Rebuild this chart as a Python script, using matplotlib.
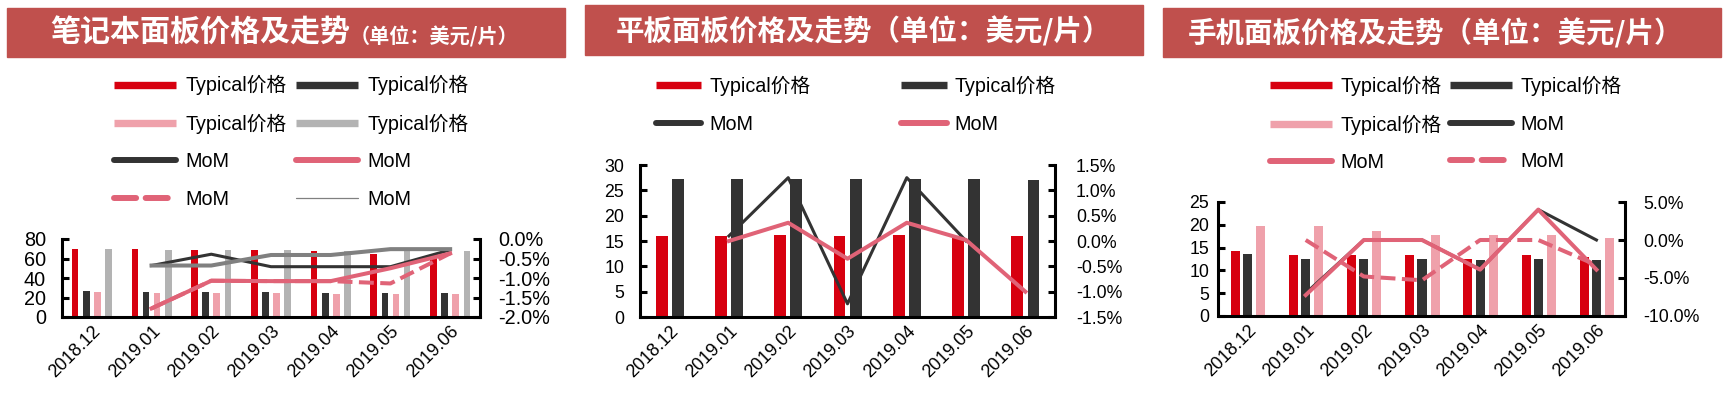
import numpy as np
import matplotlib
matplotlib.use('Agg')
import matplotlib.pyplot as plt
from matplotlib.lines import Line2D
from matplotlib.patches import Rectangle
from matplotlib.ticker import FuncFormatter

plt.rcParams['font.family'] = ['Liberation Sans', 'Noto Sans CJK SC']

W, H = 1731, 399
nan = np.nan

months = ['2018.12', '2019.01', '2019.02', '2019.03', '2019.04', '2019.05', '2019.06']

# 笔记本 (notebook) panel
nb_red = [70, 70, 69, 69, 68, 65, 64]
nb_dark = [27, 26, 26, 26, 25, 25, 25]
nb_pink = [26, 25, 25, 25, 24, 24, 24]
nb_gray = [70, 69, 69, 69, 68, 68, 68]
nb_mom_dark = [nan, -0.68, -0.39, -0.71, -0.71, -0.71, -0.28]
nb_mom_gray = [nan, -0.68, -0.68, -0.41, -0.41, -0.26, -0.26]
nb_mom_pink = [nan, -1.78, -1.07, -1.08, -1.08, -0.75, -0.37]
nb_mom_pink2 = [nan, -1.78, -1.07, -1.08, -1.08, -1.14, -0.37]
nb_mom_thin = [nan, -0.68, -0.68, -0.41, -0.41, -0.26, -0.26]

# 平板 (tablet) panel
tb_red = [16.0, 16.0, 16.2, 16.0, 16.2, 15.8, 16.0]
tb_dark = [27.2, 27.2, 27.2, 27.2, 27.2, 27.2, 27.0]
tb_mom_dark = [nan, 0.1, 1.25, -1.24, 1.25, 0.0, nan]
tb_mom_pink = [nan, 0.0, 0.36, -0.35, 0.36, 0.02, -1.0]

# 手机 (phone) panel
ph_red = [14.2, 13.3, 13.3, 13.3, 12.6, 13.3, 13.0]
ph_dark = [13.6, 12.6, 12.6, 12.6, 12.3, 12.6, 12.3]
ph_pink = [19.7, 19.7, 18.6, 17.7, 17.7, 17.7, 17.0]
ph_mom_dark = [nan, -7.0, 0.0, 0.0, -3.9, 4.0, 0.0]
ph_mom_pink = [nan, -7.25, 0.0, 0.0, -3.9, 4.0, -3.9]
ph_mom_pink2 = [nan, 0.0, -4.8, -5.3, 0.0, 0.0, -3.3]

C_RED = '#D7000F'
C_DARK = '#333333'
C_PINK = '#EFA1AB'
C_GRAY = '#B3B3B3'
C_LPINK = '#E06377'
C_LGRAY = '#808080'
C_BANNER = '#C0504D'

fig = plt.figure(figsize=(W / 100, H / 100), dpi=100)


def px_rect(l, t, r, b):
    return [l / W, 1 - b / H, (r - l) / W, (b - t) / H]


def make_axes(rect, ylim, yticks, y2lim, y2ticks, ysize, lpad, rpad):
    ax = fig.add_axes(px_rect(*rect))
    ax2 = ax.twinx()
    ax.set_xlim(-0.5, 6.5)
    ax.set_ylim(*ylim)
    ax.set_yticks(yticks)
    ax2.set_ylim(*y2lim)
    ax2.set_yticks(y2ticks)
    ax2.yaxis.set_major_formatter(FuncFormatter(lambda v, p: '%.1f%%' % v))
    for a in (ax, ax2):
        for s in a.spines.values():
            s.set_linewidth(2.2)
            s.set_visible(False)
    ax.spines['left'].set_visible(True)
    ax.spines['bottom'].set_visible(True)
    ax2.spines['right'].set_visible(True)
    ax.tick_params(axis='y', direction='in', length=5, width=2.2, labelsize=ysize, pad=lpad)
    ax2.tick_params(axis='y', direction='in', length=5, width=2.2, labelsize=ysize, pad=rpad)
    ax.set_xticks(range(len(months)))
    ax.set_xticklabels(months, rotation=45, ha='right', rotation_mode='anchor', fontsize=13)
    ax.tick_params(axis='x', length=0, pad=4)
    return ax, ax2


def banner(l, t, r, b):
    fig.add_artist(Rectangle((l / W, 1 - b / H), (r - l) / W, (b - t) / H,
                             transform=fig.transFigure, color=C_BANNER, zorder=0))


def ftext(x, y, s, **kw):
    fig.text(x / W, 1 - y / H, s, color='white', fontweight='bold',
             family=['Noto Sans CJK SC'], va='center', **kw)


def bar_h(color):
    return Line2D([], [], color=color, lw=5.3, solid_capstyle='butt')


def line_h(color, ls='-', lw=4.3):
    return Line2D([], [], color=color, lw=lw, ls=ls, solid_capstyle='round',
                  dash_capstyle='round')


def legend(handles, labels, cx, cy, hl, tp, cs, ls=0.93):
    h = handles[0::2] + handles[1::2]
    lab = labels[0::2] + labels[1::2]
    fig.legend(h, lab, loc='center', bbox_to_anchor=(cx / W, 1 - cy / H), ncol=2,
               frameon=False, fontsize=14.2, handlelength=hl, handletextpad=tp,
               columnspacing=cs, labelspacing=ls, borderpad=0, borderaxespad=0)


x = np.arange(len(months))

# ---- panel 1: notebook
banner(7, 8, 565, 57)
ftext(350, 33, '笔记本面板价格及走势', ha='right', fontsize=21.6)
ftext(350, 37, '（单位：美元/片）', ha='left', fontsize=14.5)
ax, ax2 = make_axes((62, 239, 480, 317), (0, 80), range(0, 81, 20),
                    (-2.0, 0.0), np.arange(-2.0, 0.01, 0.5), 14.3, 11.5, 12.8)
w = 0.112
ax.bar(x - 0.28, nb_red, w, color=C_RED)
ax.bar(x - 0.093, nb_dark, w, color=C_DARK)
ax.bar(x + 0.093, nb_pink, w, color=C_PINK)
ax.bar(x + 0.28, nb_gray, w, color=C_GRAY)
ax2.plot(x, nb_mom_dark, color=C_DARK, lw=2.2)
ax2.plot(x, nb_mom_gray, color=C_LGRAY, lw=2.9)
ax2.plot(x, nb_mom_thin, color=C_LGRAY, lw=0.8)
ax2.plot(x, nb_mom_pink, color=C_LPINK, lw=2.9)
ax2.plot(x, nb_mom_pink2, color=C_LPINK, lw=2.9, ls='--')
legend([bar_h(C_RED), bar_h(C_DARK), bar_h(C_PINK), bar_h(C_GRAY),
        line_h(C_DARK), line_h(C_LPINK), line_h(C_LPINK, '--'), line_h(C_LGRAY, lw=0.9)],
       ['Typical价格'] * 4 + ['MoM'] * 4, 291, 142, 3.15, 0.47, 0.47)

# ---- panel 2: tablet
banner(585, 5, 1143, 55)
ftext(863, 31.5, '平板面板价格及走势（单位：美元/片）', ha='center', fontsize=20.5)
ax, ax2 = make_axes((640, 165, 1055, 317), (0, 30), range(0, 31, 5),
                    (-1.5, 1.5), np.arange(-1.5, 1.51, 0.5), 12.8, 11.5, 15)
ax.bar(x - 0.135, tb_red, 0.2, color=C_RED)
ax.bar(x + 0.137, tb_dark, 0.2, color=C_DARK)
ax2.plot(x, tb_mom_dark, color=C_DARK, lw=2.2)
ax2.plot(x, tb_mom_pink, color=C_LPINK, lw=2.9)
legend([bar_h(C_RED), bar_h(C_DARK), line_h(C_DARK), line_h(C_LPINK)],
       ['Typical价格'] * 2 + ['MoM'] * 2, 856, 105, 2.3, 0.41, 4.6)

# ---- panel 3: phone
banner(1163, 8, 1721, 57)
ftext(1436, 33, '手机面板价格及走势（单位：美元/片）', ha='center', fontsize=20.5)
ax, ax2 = make_axes((1218.5, 202, 1625.5, 316), (0, 25), range(0, 26, 5),
                    (-10, 5), np.arange(-10, 5.1, 5), 12.8, 6.6, 12.5)
w = 0.155
ax.bar(x - 0.21, ph_red, w, color=C_RED)
ax.bar(x, ph_dark, w, color=C_DARK)
ax.bar(x + 0.225, ph_pink, w, color=C_PINK)
ax2.plot(x, ph_mom_dark, color=C_DARK, lw=2.2)
ax2.plot(x, ph_mom_pink, color=C_LPINK, lw=2.9)
ax2.plot(x, ph_mom_pink2, color=C_LPINK, lw=2.9, ls='--')
legend([bar_h(C_RED), bar_h(C_DARK), bar_h(C_PINK), line_h(C_DARK),
        line_h(C_LPINK), line_h(C_LPINK, '--')],
       ['Typical价格'] * 3 + ['MoM'] * 3, 1446, 124, 3.15, 0.41, 0.44)

fig.savefig('out.png', dpi=100)
